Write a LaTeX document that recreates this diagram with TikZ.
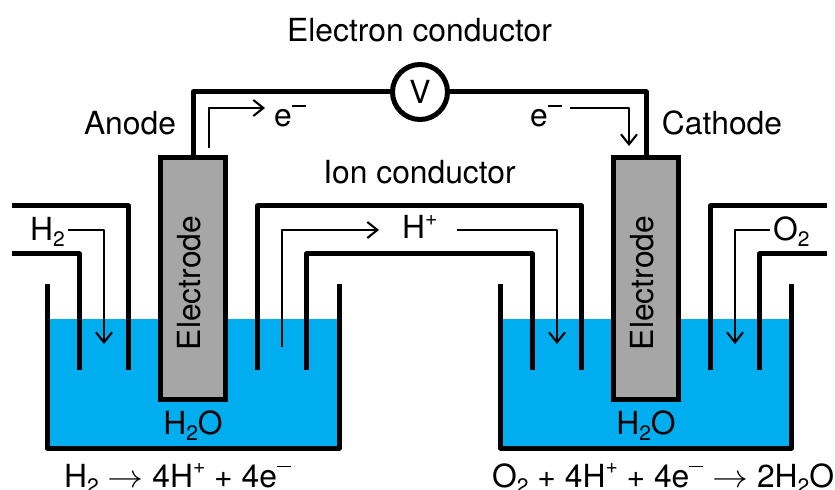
\documentclass[tikz,border=0pt]{standalone}
\usepackage{fontspec}
\usepackage{graphicx}
\usetikzlibrary{arrows.meta}
\setmainfont{TeX Gyre Heros}
\newcommand\dn[1]{\raisebox{-.2em}{\fontsize{21bp}{21bp}\selectfont #1}}
\newcommand\up[1]{\raisebox{.42em}{\fontsize{21bp}{21bp}\selectfont #1}}
\newcommand\minusup{\raisebox{.62em}{\rule{14bp}{1.3bp}}}
\newcommand\reacts{\scalebox{1.45}[1.3]{$\rightarrow$}}
\definecolor{waterblue}{HTML}{00AEEF}
\definecolor{electrodegray}{HTML}{A6A6A6}
\begin{document}
\begin{tikzpicture}[x=1bp,y=-1bp,
  wall/.style={line width=5bp,line join=round},
  flow/.style={line width=2.1bp,line join=round},
  flowtip/.style={flow,-{Straight Barb[length=10bp,width=16bp,line width=2.1bp]}},
  txt/.style={font=\fontsize{31.8bp}{32bp}\selectfont,inner sep=0pt,text=black},
  electrode/.style={draw=black,line width=5bp,fill=electrodegray,minimum width=65bp,minimum height=242bp,inner sep=0pt,outer sep=0pt,anchor=north},
  meter/.style={circle,draw=black,line width=5bp,fill=white,minimum size=55bp,inner sep=0pt,outer sep=0pt,font=\fontsize{31.8bp}{32bp}\selectfont}]
\useasboundingbox (0,0) rectangle (835,490);
\clip (0,0) rectangle (835,490);
% water
\fill[waterblue] (47,319) rectangle (339,448);
\fill[waterblue] (500.5,319) rectangle (791.5,448);
% vessels
\draw[wall] (47,284) -- (47,448) -- (339,448) -- (339,284);
\draw[wall] (500.5,284) -- (500.5,448) -- (791.5,448) -- (791.5,284);
% pipes
\draw[wall] (12,206) -- (128.5,206) -- (128.5,370);
\draw[wall] (12,254) -- (79.5,254) -- (79.5,370);
\draw[wall] (257.5,370) -- (257.5,206) -- (581.5,206) -- (581.5,370);
\draw[wall] (306.5,370) -- (306.5,254) -- (532.5,254) -- (532.5,370);
\draw[wall] (826.5,206) -- (710.5,206) -- (710.5,370);
\draw[wall] (826.5,254) -- (759.5,254) -- (759.5,370);
% electrodes
\node[electrode] (elA) at (193,157.5) {};
\node[electrode] (elC) at (646,157.5) {};
\node[txt,rotate=90] (elAt) at (189.5,283) {Electrode};
\node[txt,rotate=90] (elCt) at (642.5,283) {Electrode};
% meter and wires
\node[meter] (V) at (420,92) {V};
\draw[wall] (elA.north) -- (193,92) -- (V.west);
\draw[wall] (V.east) -- (646,92) -- (elC.north);
% labels
\node[txt,anchor=base] (econd) at (419.5,42) {Electron conductor};
\node[txt,anchor=base] (icond) at (419.5,183.5) {Ion conductor};
\node[txt,anchor=base] (anode) at (130,135) {Anode};
\node[txt,anchor=base] (cathode) at (722,135) {Cathode};
\node[txt,anchor=base west] (eL) at (274,126.5) {e\minusup};
\node[txt,anchor=base west] (eR) at (530,126.5) {e\minusup};
\node[txt,anchor=base west] (Hp) at (402,239) {H\up{+}};
\node[txt,anchor=base west] (H2) at (30,240.5) {H\dn{2}};
\node[txt,anchor=base west] (O2) at (773,240.5) {O\dn{2}};
\node[txt,anchor=base] (wL) at (193,434.5) {H\dn{2}O};
\node[txt,anchor=base] (wR) at (646,434.5) {H\dn{2}O};
\node[txt,anchor=base west] (rL) at (64,487) {H\dn{2} \reacts{} 4H\up{+} + 4e\minusup};
\node[txt,anchor=base west] (rR) at (492,487) {O\dn{2} + 4H\up{+} + 4e\minusup\ \reacts{} 2H\dn{2}O};
% flow arrows
\coordinate (a1) at (209,148);
\coordinate (a2) at (265,108);
\draw[flowtip] (a1) -- (209,108) -- (a2);
\coordinate (b1) at (570,108);
\coordinate (b2) at (629,146);
\draw[flowtip] (b1) -- (629,108) -- (b2);
\coordinate (c1) at (282,347);
\coordinate (c2) at (379,230);
\draw[flowtip] (c1) -- (282,230) -- (c2);
\coordinate (d1) at (456.5,230);
\coordinate (d2) at (557,344);
\draw[flowtip] (d1) -- (557,230) -- (d2);
\coordinate (e1) at (68,230);
\coordinate (e2) at (104,344);
\draw[flowtip] (e1) -- (104,230) -- (e2);
\coordinate (f1) at (770,230);
\coordinate (f2) at (735,344);
\draw[flowtip] (f1) -- (735,230) -- (f2);
\end{tikzpicture}
\end{document}
